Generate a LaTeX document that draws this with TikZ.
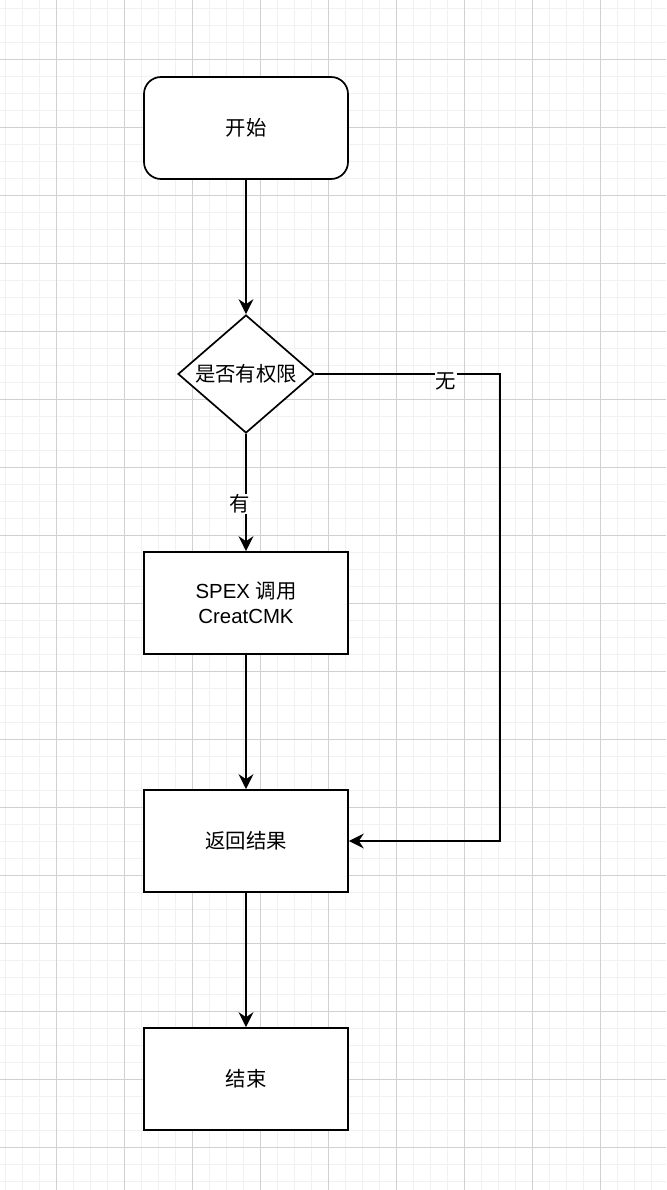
\documentclass[tikz,border=0pt]{standalone}
\usepackage{fontspec}
\setmainfont{Liberation Sans}
\newfontfamily\cjk{Noto Sans CJK SC}
\usetikzlibrary{shapes.geometric,arrows.meta}
\definecolor{gridminor}{RGB}{241,241,241}
\definecolor{gridmajor}{RGB}{208,208,208}
\tikzset{
  flowbox/.style={draw=black, line width=1.7pt, fill=white, minimum width=204pt, minimum height=102pt, inner sep=0pt, align=center, font=\fontsize{20.4}{25}\selectfont},
  startbox/.style={flowbox, rounded corners=17pt},
  decbox/.style={draw=black, line width=1.7pt, fill=white, diamond, aspect=1.15, minimum width=136pt, minimum height=118pt, inner sep=0pt, font=\fontsize{20.4}{25}\selectfont},
  conn/.style={draw=black, line width=1.7pt, -{Stealth[length=15pt,width=15pt,inset=5pt]}},
  edgelabel/.style={fill=white, inner sep=1pt, font=\fontsize{20.4}{25}\selectfont}
}
\begin{document}
\begin{tikzpicture}[x=1pt,y=-1pt]
\useasboundingbox (0,0) rectangle (666,1190);
\fill[white] (0,0) rectangle (666,1190);
% grid
\foreach \k in {0,...,38} {\draw[gridminor, line width=1pt] ({5.2+17*\k},0) -- ({5.2+17*\k},1190);}
\foreach \k in {0,...,69} {\draw[gridminor, line width=1pt] (0,{8.3+17*\k}) -- (666,{8.3+17*\k});}
\foreach \k in {0,...,8} {\draw[gridmajor, line width=1pt] ({56.2+68*\k},0) -- ({56.2+68*\k},1190);}
\foreach \k in {0,...,16} {\draw[gridmajor, line width=1pt] (0,{59.3+68*\k}) -- (666,{59.3+68*\k});}
% nodes
\node[startbox] (start) at (246,128) {\cjk 开始};
\node[decbox] (dec) at (246,374) {\cjk 是否有权限};
\node[flowbox] (spex) at (246,603) {SPEX {\cjk 调用}\\CreatCMK};
\node[flowbox] (ret) at (246,841) {\cjk 返回结果};
\node[flowbox] (fin) at (246,1079) {\cjk 结束};
\coordinate (c1) at (500,374);
\coordinate (c2) at (500,841);
% connectors
\draw[conn] (start) -- (dec);
\draw[conn] (dec) -- (spex);
\node[edgelabel] (lblyes) at (240,504) {\cjk 有};
\draw[conn] (spex) -- (ret);
\draw[conn] (ret) -- (fin);
\draw[conn] (dec.east) -- (c1) -- (c2) -- (ret.east);
\node[edgelabel] (lblno) at (446,381) {\cjk 无};
\end{tikzpicture}
\end{document}
